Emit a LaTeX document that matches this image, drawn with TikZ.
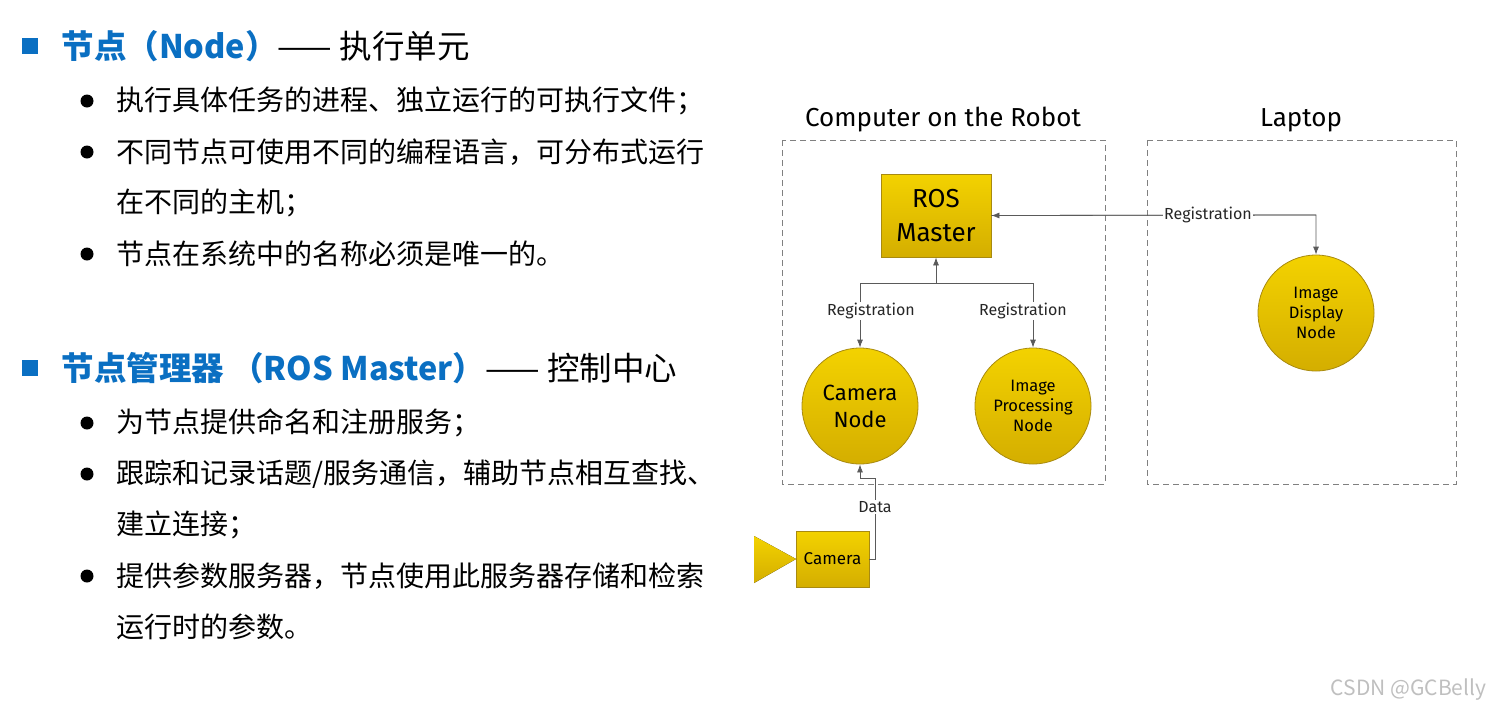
\documentclass[tikz,border=0pt]{standalone}
\usepackage{fontspec}
\setmainfont{Noto Sans CJK SC}
\newfontfamily\dg{Fira Sans}
\usetikzlibrary{arrows.meta,shapes.geometric}
\definecolor{hblue}{HTML}{0A6FC2}
\definecolor{gtop}{HTML}{F3D200}
\definecolor{gbot}{HTML}{D4AE00}
\definecolor{gedge}{HTML}{A88A10}
\definecolor{lgray}{HTML}{5A5A5A}
\begin{document}
\begin{tikzpicture}[x=1pt,y=-1pt,
  gold/.style={draw=gedge,top color=gtop,bottom color=gbot,line width=0.8pt},
  rosnode/.style={gold,ellipse,minimum width=116pt,minimum height=116pt,inner sep=0pt,align=center,font=\dg\fontsize{16.5}{20}\selectfont},
  conn/.style={draw=lgray,line width=0.8pt},
  arr/.style={-{Latex[length=8pt,width=6pt]}},
  lbl/.style={fill=white,inner sep=1pt,font=\dg\fontsize{16}{19}\selectfont,text=black!85},
  box/.style={draw=gray,dashed,dash pattern=on 6pt off 4pt,line width=0.8pt},
  bul/.style={anchor=west,font=\fontsize{28}{32}\selectfont},
  head/.style={anchor=west,font=\fontsize{32.5}{36}\selectfont}]
\useasboundingbox (0,0) rectangle (1495,718);
% left text
\fill[hblue] (22,38) rectangle (38,54);
\node[head] (h1) at (58,46) {\textcolor{hblue}{\bfseries 节点（Node）}—— 执行单元};
\fill (87,101) circle (6.5pt); \node[bul] (b1) at (113,101) {执行具体任务的进程、独立运行的可执行文件；};
\fill (87,152) circle (6.5pt); \node[bul] (b2) at (113,152) {不同节点可使用不同的编程语言，可分布式运行};
\node[bul] (b2b) at (113,203) {在不同的主机；};
\fill (87,254) circle (6.5pt); \node[bul] (b3) at (113,254) {节点在系统中的名称必须是唯一的。};
\fill[hblue] (22,360) rectangle (38,376);
\node[head] (h2) at (58,368) {\textcolor{hblue}{\bfseries 节点管理器 （ROS Master）}—— 控制中心};
\fill (87,423) circle (6.5pt); \node[bul] (c1) at (113,423) {为节点提供命名和注册服务；};
\fill (87,474) circle (6.5pt); \node[bul] (c2) at (113,474) {跟踪和记录话题/服务通信，辅助节点相互查找、};
\node[bul] (c2b) at (113,525) {建立连接；};
\fill (87,576) circle (6.5pt); \node[bul] (c3) at (113,576) {提供参数服务器，节点使用此服务器存储和检索};
\node[bul] (c3b) at (113,627) {运行时的参数。};
% diagram
\node[font=\dg\fontsize{26}{30}\selectfont] (t1) at (943,120) {Computer on the Robot};
\node[font=\dg\fontsize{26}{30}\selectfont] (t2) at (1301,120) {Laptop};
\draw[box] (782,140) rectangle (1105,484);
\draw[box] (1147,140) rectangle (1456,484);
\node[gold,minimum width=110pt,minimum height=83pt,inner sep=0pt,align=center,font=\dg\fontsize{26}{34}\selectfont] (m) at (936,215.5) {ROS\\Master};
\node[rosnode,font=\dg\fontsize{22}{27}\selectfont] (cn) at (860,406) {Camera\\Node};
\node[rosnode] (ip) at (1033,406) {Image\\Processing\\Node};
\node[rosnode] (id) at (1316,313) {Image\\Display\\Node};
\node[gold,minimum width=73pt,minimum height=56pt,inner sep=0pt,font=\dg\fontsize{17}{20}\selectfont] (cam) at (832.5,559) {Camera};
\fill[top color=gtop,bottom color=gbot] (754,536) -- (796,559) -- (754,583) -- cycle;
\coordinate (j) at (936,283);
\coordinate (r) at (1316,215);
\coordinate (d) at (875,478);
\draw[conn,arr] (j) -- (m.south);
\draw[conn,arr] (j) -| (cn.north);
\draw[conn,arr] (j) -| (ip.north);
\draw[conn,arr] (m.east) -- (r) -- (id.north);
\draw[conn,arr] (r) -- (m.east);
\draw[conn,arr] (cam.east) -| (d) -| (cn.south);
\node[lbl] at (871,311) {Registration};
\node[lbl] at (1023,311) {Registration};
\node[lbl] at (1208,215) {Registration};
\node[lbl] at (875,507) {Data};
\node[font=\fontsize{21}{24}\selectfont,text=black!25,anchor=east] at (1490,690) {CSDN @GCBelly};
\end{tikzpicture}
\end{document}
